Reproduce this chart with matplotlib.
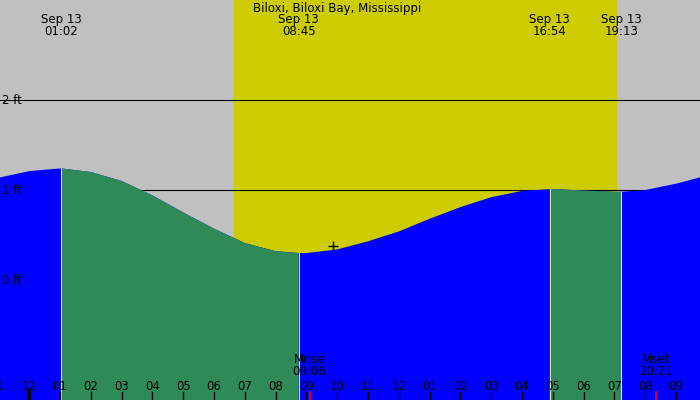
import matplotlib
matplotlib.use("Agg")
import matplotlib.pyplot as plt
import numpy as np

title = "Biloxi, Biloxi Bay, Mississippi"
hours = [-0.95, 0, 1, 1.03, 2, 3, 4, 5, 6, 7, 8, 8.75, 9, 10, 11, 12, 13, 14, 15, 16, 16.9, 17, 18, 19, 19.22, 20, 21, 21.78]
heights = [1.14, 1.21, 1.24, 1.24, 1.20, 1.10, 0.94, 0.75, 0.57, 0.41, 0.32, 0.30, 0.30, 0.34, 0.43, 0.54, 0.68, 0.81, 0.92, 0.99, 1.01, 1.01, 0.995, 0.98, 0.98, 1.00, 1.07, 1.14]
extreme_hours = [1.03, 8.75, 16.9, 19.22]
extreme_labels = ["Sep 13\n01:02", "Sep 13\n08:45", "Sep 13\n16:54", "Sep 13\n19:13"]
sunrise, sunset = 6.65, 19.05
moon_hours = [9.1, 20.35]
moon_labels = ["Mrise\n09:06", "Mset\n20:21"]
tick_hours = list(range(-1, 22))
tick_labels = ["11", "12"] + ["%02d" % h for h in range(1, 13)] + ["%02d" % h for h in range(1, 10)]
now_hour, now_height = 9.87, 0.38

fig = plt.figure(figsize=(7, 4), dpi=100)
ax = fig.add_axes([0, 0, 1, 1])
ax.set_xlim(-0.95, 21.78)
ax.set_ylim(-1.333, 3.111)
ax.axis("off")
ax.add_patch(plt.Rectangle((-2, -2), 30, 10, color="#c0c0c0", zorder=0))
ax.axvspan(sunrise, sunset, color="#cccc00", zorder=1)
for lv in [0, 1, 2]:
    ax.axhline(lv, color="black", lw=0.8, zorder=2)
    ax.text(-0.88, lv, "%d ft" % lv, fontsize=8.5, va="center", zorder=6)

t = np.array(hours)
h = np.array(heights)
falling = ((t >= extreme_hours[0]) & (t <= extreme_hours[1])) | ((t >= extreme_hours[2]) & (t <= extreme_hours[3]))
ax.fill_between(t, -2, h, color="#0000ff", lw=0, zorder=3)
ax.fill_between(t, -2, h, where=falling, color="#2e8b57", lw=0, zorder=3.5)
for eh in extreme_hours:
    ax.axvline(eh, ymax=(np.interp(eh, t, h) + 1.333) / 4.444, color="white", lw=0.6, zorder=4)

ax.plot([now_hour], [now_height], marker="+", color="black", ms=7, mew=1, zorder=6)

ax.text(10.0, 3.02, title, ha="center", va="center", fontsize=8.5, zorder=6)
for eh, lab in zip(extreme_hours, extreme_labels):
    ax.text(eh, 2.83, lab, ha="center", va="center", fontsize=8.5, linespacing=0.95, zorder=6)

for th, tl in zip(tick_hours, tick_labels):
    ax.text(th, -1.18, tl, ha="center", va="center", fontsize=8.5, zorder=6)
    ax.plot([th, th], [-1.333, -1.245], color="black", lw=1, zorder=6)
ax.plot([0, 0], [-1.333, -1.245], color="black", lw=3, zorder=6)
for mh, ml in zip(moon_hours, moon_labels):
    ax.plot([mh, mh], [-1.333, -1.245], color="red", lw=1.2, zorder=6)
    ax.text(mh, -0.95, ml, ha="center", va="center", fontsize=8.5, linespacing=0.95, zorder=6)

fig.savefig("out.png", dpi=100)
